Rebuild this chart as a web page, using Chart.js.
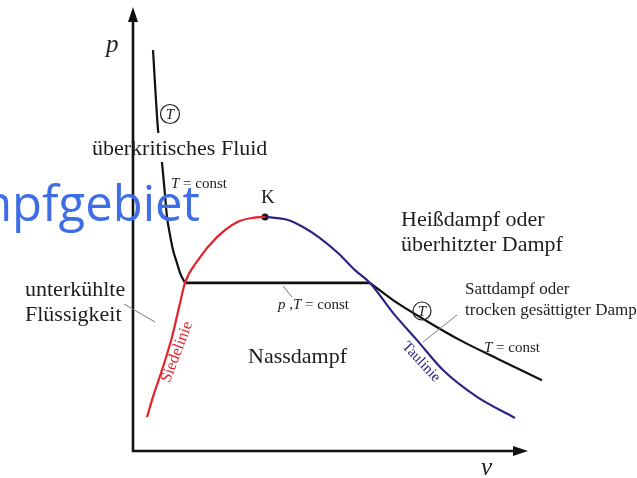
<!DOCTYPE html>
<html lang="de">
<head>
  <meta charset="UTF-8" />
  <title>p-v-Diagramm</title>
  <script src="https://cdn.jsdelivr.net/npm/chart.js"></script>
  <style>
    html,body { margin:0; padding:0; background:#fff; }
    canvas    { display:block; }
  </style>
</head>
<body>
  <canvas id="pv" width="637" height="478"></canvas>

  <script>
    /* ---- data: specific volume v / pressure p (arbitrary units) ---- */
    // isotherm, steep liquid branch down to the boiling line
    const isoLeftV  = [0.50, 0.625, 0.725, 0.80, 0.85, 0.925, 1.00, 1.10, 1.175, 1.30];
    const isoLeftP  = [9.11, 7.30, 6.55, 5.82, 5.32, 4.91, 4.57, 4.27, 4.05, 3.82];
    // isotherm inside the wet-steam region (p,T = const)
    const isoFlatV  = [1.30, 5.925];
    const isoFlatP  = [3.82, 3.82];
    // isotherm in the superheated region
    const isoRightV = [5.925, 6.50, 7.35, 8.175, 9.175, 10.225];
    const isoRightP = [3.82, 3.43, 2.95, 2.52, 2.07, 1.61];
    // Siedelinie (saturated liquid)
    const siedeV    = [0.35, 0.50, 0.725, 0.975, 1.175, 1.30, 1.625, 2.10, 2.60, 3.00, 3.30];
    const siedeP    = [0.77, 1.23, 1.84, 2.59, 3.36, 3.82, 4.34, 4.86, 5.20, 5.30, 5.32];
    // Taulinie (saturated vapour)
    const tauV      = [3.30, 3.875, 4.25, 4.675, 5.125, 5.55, 5.925, 6.50, 7.10, 7.75, 8.60, 9.55];
    const tauP      = [5.32, 5.25, 5.09, 4.84, 4.50, 4.11, 3.82, 3.14, 2.52, 1.84, 1.23, 0.75];
    // critical point K
    const kritV     = [3.30];
    const kritP     = [5.32];

    const pts = (xs, ys) => xs.map((x, i) => ({ x, y: ys[i] }));

    const SERIF = '"Liberation Serif", "Times New Roman", serif';
    const INK   = "#1e1e1e";
    const RED   = "#e3222b";
    const NAVY  = "#2b2683";

    /* draw runs of text; each run is [string, italic?] */
    function runs(ctx, x, y, size, parts, color) {
      ctx.fillStyle = color || INK;
      ctx.textBaseline = "alphabetic";
      ctx.textAlign = "left";
      parts.forEach(([s, it]) => {
        ctx.font = (it ? "italic " : "") + size + "px " + SERIF;
        ctx.fillText(s, x, y);
        x += ctx.measureText(s).width;
      });
    }

    function circledT(ctx, cx, cy, r) {
      ctx.beginPath();
      ctx.arc(cx, cy, r, 0, Math.PI * 2);
      ctx.lineWidth = 1.2;
      ctx.strokeStyle = INK;
      ctx.stroke();
      ctx.font = "italic 15px " + SERIF;
      ctx.fillStyle = INK;
      ctx.textAlign = "center";
      ctx.textBaseline = "middle";
      ctx.fillText("T", cx, cy + 1);
    }

    function leader(ctx, x1, y1, x2, y2) {
      ctx.beginPath();
      ctx.moveTo(x1, y1);
      ctx.lineTo(x2, y2);
      ctx.lineWidth = 1;
      ctx.strokeStyle = "#7a7a7a";
      ctx.stroke();
    }

    function rotated(ctx, s, cx, cy, deg, size, color) {
      ctx.save();
      ctx.translate(cx, cy);
      ctx.rotate(deg * Math.PI / 180);
      ctx.font = size + "px " + SERIF;
      ctx.fillStyle = color;
      ctx.textAlign = "center";
      ctx.textBaseline = "middle";
      ctx.fillText(s, 0, 0);
      ctx.restore();
    }

    /* axes with arrow heads, drawn under the curves */
    const arrowAxes = {
      id: "arrowAxes",
      beforeDatasetsDraw(chart) {
        const { ctx, scales: { x, y } } = chart;
        const x0 = x.getPixelForValue(0), y0 = y.getPixelForValue(0);
        const yTop = y.getPixelForValue(10.09), xEnd = x.getPixelForValue(9.875);
        ctx.save();
        ctx.strokeStyle = "#111";
        ctx.fillStyle = "#111";
        ctx.lineWidth = 2.6;
        ctx.lineCap = "square";
        ctx.beginPath();
        ctx.moveTo(x0, yTop + 10);
        ctx.lineTo(x0, y0);
        ctx.lineTo(xEnd - 10, y0);
        ctx.stroke();
        // heads
        ctx.beginPath();
        ctx.moveTo(x0, yTop);
        ctx.lineTo(x0 - 5, yTop + 15);
        ctx.lineTo(x0 + 5, yTop + 15);
        ctx.closePath();
        ctx.fill();
        ctx.beginPath();
        ctx.moveTo(xEnd, y0);
        ctx.lineTo(xEnd - 15, y0 - 5);
        ctx.lineTo(xEnd - 15, y0 + 5);
        ctx.closePath();
        ctx.fill();
        ctx.restore();
      }
    };

    /* region names, curve labels, leaders */
    const labels = {
      id: "labels",
      afterDatasetsDraw(chart) {
        const ctx = chart.ctx;
        ctx.save();

        runs(ctx, 106, 52, 25, [["p", true]]);
        runs(ctx, 481, 475, 25, [["v", true]]);

        // white gap in the isotherm behind the label
        ctx.fillStyle = "#fff";
        ctx.fillRect(140, 133, 30, 29);
        runs(ctx, 92, 155, 22, [["überkritisches Fluid", false]]);

        circledT(ctx, 170, 114, 9.5);
        runs(ctx, 171, 188, 15, [["T", true], [" = const", false]]);

        runs(ctx, 261, 203, 19, [["K", false]]);

        runs(ctx, 401, 226, 22, [["Heißdampf oder", false]]);
        runs(ctx, 401, 251, 22, [["überhitzter Dampf", false]]);

        runs(ctx, 25, 296, 22, [["unterkühlte", false]]);
        runs(ctx, 25, 321, 22, [["Flüssigkeit", false]]);
        leader(ctx, 124, 304, 155, 322);

        runs(ctx, 278, 309, 15, [["p", true], [" ,", false], ["T", true], [" = const", false]]);
        leader(ctx, 283, 286, 292, 297);

        runs(ctx, 248, 363, 22, [["Nassdampf", false]]);

        runs(ctx, 465, 294, 17, [["Sattdampf oder", false]]);
        runs(ctx, 465, 315, 17, [["trocken gesättigter Dampf", false]]);
        leader(ctx, 457, 315, 423, 342);

        circledT(ctx, 422, 311, 9);
        runs(ctx, 484, 352, 15, [["T", true], [" = const", false]]);

        rotated(ctx, "Siedelinie", 177, 352, -69, 16, RED);
        rotated(ctx, "Taulinie", 421, 362, 47, 15, NAVY);

        // large blue caption running off the left edge
        ctx.font = '49px "Open Sans", "Noto Sans", sans-serif';
        ctx.fillStyle = "#3d6ee6";
        ctx.textAlign = "right";
        ctx.textBaseline = "alphabetic";
        ctx.fillText("Nassdampfgebiet", 200, 221);

        ctx.restore();
      }
    };

    const line = (data, color, width) => ({
      data, showLine: true, borderColor: color, borderWidth: width,
      pointRadius: 0, cubicInterpolationMode: "monotone", fill: false
    });

    new Chart(document.getElementById("pv"), {
      type: "scatter",
      data: {
        datasets: [
          line(pts(siedeV, siedeP), RED, 2.2),
          line(pts(tauV, tauP), NAVY, 2.2),
          line(pts(isoLeftV, isoLeftP), "#111", 2.2),
          line(pts(isoFlatV, isoFlatP), "#111", 2.8),
          line(pts(isoRightV, isoRightP), "#111", 2.2),
          { data: pts(kritV, kritP), pointRadius: 3.5, pointBackgroundColor: "#111",
            pointBorderWidth: 0, showLine: false }
        ]
      },
      options: {
        responsive: false,
        animation: false,
        events: [],
        layout: { padding: { left: 133, right: 24, top: 11, bottom: 27 } },
        plugins: { legend: { display: false }, tooltip: { enabled: false } },
        scales: {
          x: { type: "linear", min: 0, max: 12, display: false },
          y: { type: "linear", min: 0, max: 10, display: false }
        }
      },
      plugins: [arrowAxes, labels]
    });
  </script>
</body>
</html>
